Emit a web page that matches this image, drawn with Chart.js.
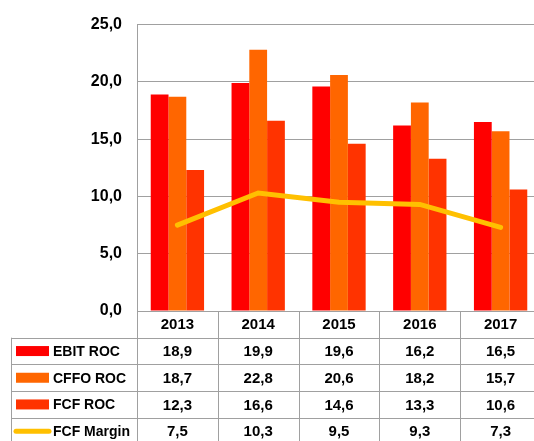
<!DOCTYPE html>
<html>
<head>
<meta charset="utf-8">
<script src="https://cdn.jsdelivr.net/npm/chart.js@4"></script>
<style>
  html, body { margin: 0; padding: 0; background: #fff; overflow: hidden; }
</style>
</head>
<body>
<canvas id="myChart" width="541" height="441"></canvas>
<script>
const years = ['2013', '2014', '2015', '2016', '2017'];
const ebitRoc = [18.9, 19.9, 19.6, 16.2, 16.5];
const cffoRoc = [18.7, 22.8, 20.6, 18.2, 15.7];
const fcfRoc = [12.3, 16.6, 14.6, 13.3, 10.6];
const fcfMargin = [7.5, 10.3, 9.5, 9.3, 7.3];
const yTicks = [0, 5, 10, 15, 20, 25];

const gridColor = '#a0a0a0';
const family = '"Liberation Sans", Arial, sans-serif';
const numFont = 'bold 15px ' + family;
const labelFont = 'bold 14px ' + family;
const fmt = v => v.toFixed(1).replace('.', ',');

// data table under the plot, lined up with the x scale
const tablePlugin = {
  id: 'dataTable',
  afterDraw(chart) {
    const ctx = chart.ctx;
    const area = chart.chartArea;
    const x = chart.scales.x;
    const n = years.length;
    const colW = (area.right - area.left) / n;
    const rowH = 26.7;
    const top = area.bottom;
    const tableLeft = 11;
    const rows = [
      { label: 'EBIT ROC', data: ebitRoc, color: '#ff0000', type: 'bar' },
      { label: 'CFFO ROC', data: cffoRoc, color: '#ff6600', type: 'bar' },
      { label: 'FCF ROC', data: fcfRoc, color: '#ff3300', type: 'bar' },
      { label: 'FCF Margin', data: fcfMargin, color: '#ffc000', type: 'line' }
    ];
    const bottom = top + rowH * (rows.length + 1);

    ctx.save();
    ctx.strokeStyle = gridColor;
    ctx.lineWidth = 1;
    // horizontal lines
    for (let r = 1; r <= rows.length + 1; r++) {
      const y = Math.round(top + r * rowH) + 0.5;
      ctx.beginPath();
      ctx.moveTo(tableLeft, y);
      ctx.lineTo(area.right, y);
      ctx.stroke();
    }
    // vertical lines
    ctx.beginPath();
    ctx.moveTo(tableLeft + 0.5, top + rowH);
    ctx.lineTo(tableLeft + 0.5, bottom);
    ctx.stroke();
    for (let i = 0; i <= n; i++) {
      const xx = Math.round(area.left + i * colW) + 0.5;
      ctx.beginPath();
      ctx.moveTo(xx, top);
      ctx.lineTo(xx, bottom);
      ctx.stroke();
    }

    ctx.font = numFont;
    ctx.fillStyle = '#000';
    ctx.textBaseline = 'middle';
    ctx.textAlign = 'center';
    years.forEach((yr, i) => {
      ctx.fillText(yr, x.getPixelForValue(i), top + rowH / 2 + 1);
    });
    rows.forEach((row, r) => {
      const cy = top + (r + 1) * rowH + rowH / 2 + 1;
      if (row.type === 'bar') {
        ctx.fillStyle = row.color;
        ctx.fillRect(16, cy - 6, 33, 10);
      } else {
        ctx.strokeStyle = row.color;
        ctx.lineWidth = 5;
        ctx.lineCap = 'round';
        ctx.beginPath();
        ctx.moveTo(16, cy - 1);
        ctx.lineTo(49, cy - 1);
        ctx.stroke();
      }
      ctx.fillStyle = '#000';
      ctx.textAlign = 'left';
      ctx.font = labelFont;
      ctx.fillText(row.label, 53, cy);
      ctx.textAlign = 'center';
      ctx.font = numFont;
      row.data.forEach((v, i) => {
        ctx.fillText(fmt(v), x.getPixelForValue(i), cy);
      });
    });
    ctx.restore();
  }
};

const ctx = document.getElementById('myChart').getContext('2d');
new Chart(ctx, {
  type: 'bar',
  data: {
    labels: years,
    datasets: [
      {
        type: 'line',
        label: 'FCF Margin',
        data: fcfMargin,
        borderColor: '#ffc000',
        backgroundColor: '#ffc000',
        borderWidth: 5,
        borderCapStyle: 'round',
        pointRadius: 0,
        fill: false,
        tension: 0,
        order: 0
      },
      { label: 'EBIT ROC', data: ebitRoc, backgroundColor: '#ff0000', order: 1 },
      { label: 'CFFO ROC', data: cffoRoc, backgroundColor: '#ff6600', order: 1 },
      { label: 'FCF ROC', data: fcfRoc, backgroundColor: '#ff3300', order: 1 }
    ]
  },
  options: {
    responsive: false,
    animation: false,
    barPercentage: 1,
    categoryPercentage: 0.66,
    layout: { padding: { left: 0, right: 0, top: 18, bottom: 130 } },
    plugins: {
      legend: { display: false },
      tooltip: { enabled: false }
    },
    scales: {
      x: {
        display: false
      },
      y: {
        min: 0,
        max: 25,
        afterBuildTicks: s => { s.ticks = yTicks.map(v => ({ value: v })); },
        afterFit: s => { s.width = 137; },
        ticks: {
          padding: 15,
          color: '#000',
          font: { family: family, size: 16, weight: 'bold' },
          callback: v => fmt(v)
        },
        grid: { color: gridColor, drawTicks: false },
        border: { color: gridColor }
      }
    }
  },
  plugins: [tablePlugin]
});
</script>
</body>
</html>
